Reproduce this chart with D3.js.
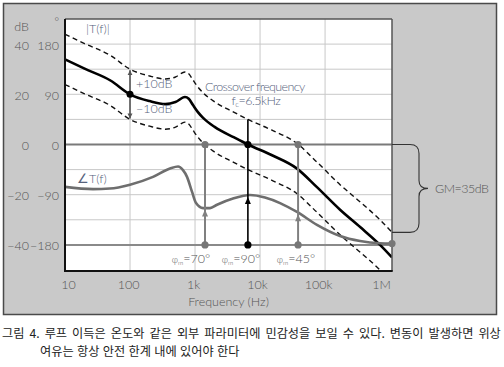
<!DOCTYPE html>
<html><head><meta charset="utf-8">
<script src="https://cdn.jsdelivr.net/npm/d3@7"></script>
<style>
body{margin:0;background:#fff}
svg{display:block}
text{font-family:Lato,"Open Sans","Liberation Sans",sans-serif;font-weight:300}
.cap{font-family:"Noto Sans CJK KR","Noto Sans",sans-serif;font-weight:400}
</style>
</head><body>
<svg id="c" width="504" height="367"></svg>
<script>
// ---- data ----
const freqs = [10, 20, 50, 100, 200, 350, 500, 700, 800, 930, 1100, 1330, 2000, 4000, 6500, 15000, 37000, 75000, 170000, 350000, 700000, 1070000];
const magDb = [33.9, 30.2, 25.5, 20, 17.3, 16.1, 16.9, 18.9, 18.2, 15.7, 13.0, 10.6, 7.0, 2.8, 0, -4.2, -9.6, -17, -26, -33, -40, -45];
const phaseFreqs = [10, 27, 49, 100, 226, 412, 548, 653, 753, 900, 1036, 1330, 1700, 2180, 3840, 7000, 11900, 20300, 37000, 75000, 170000, 345000, 700000, 1070000];
const phaseDeg = [-76, -80, -79, -72, -58, -43, -39.4, -46, -58, -85, -105, -114, -114, -108, -97, -90.5, -95, -105, -121, -144, -164, -173, -177, -177.5];
const spreadDb = 10;
const xTicks = [10, 100, 1000, 10000, 100000, 1000000];
const xTickLabels = ["10", "100", "1k", "10k", "100k", "1M"];
const dbTicks = [40, 20, 0, -20, -40];
const degTicks = [180, 90, 0, -90, -180];
const marginLabels = ["70°", "90°", "45°"];
const gainMarginDb = 35;
const markFreq = 100;
const fcLabel = "6.5kHz";
const caption1 = "그림 4. 루프 이득은 온도와 같은 외부 파라미터에 민감성을 보일 수 있다. 변동이 발생하면 위상";
const caption2 = "여유는 항상 안전 한계 내에 있어야 한다";

// ---- helpers ----
function interp(xs, ys, f) {
  const lf = Math.log10(f);
  for (let i = 0; i < xs.length - 1; i++) {
    const a = Math.log10(xs[i]), b = Math.log10(xs[i + 1]);
    if (lf >= a && lf <= b) return ys[i] + (ys[i + 1] - ys[i]) * (lf - a) / (b - a);
  }
  return ys[ys.length - 1];
}
function crossing(target) {
  for (let i = 0; i < magDb.length - 1; i++) {
    if ((magDb[i] - target) * (magDb[i + 1] - target) <= 0) {
      const a = Math.log10(freqs[i]), b = Math.log10(freqs[i + 1]);
      const t = (magDb[i] - target) / (magDb[i] - magDb[i + 1]);
      return Math.pow(10, a + t * (b - a));
    }
  }
}
const fLow = crossing(spreadDb), fc = crossing(0), fHigh = crossing(-spreadDb);
const marginFreqs = [fLow, fc, fHigh];

// ---- scales ----
const svg = d3.select("#c");
const L = 65, R = 392, T = 19, B = 271;
const x = d3.scaleLog().domain([10, 1070000]).range([L, R]);
const y = d3.scaleLinear().domain([-50.4, 50]).range([B, T]);
const yP = d3.scaleLinear().domain([-50.4 * 4.5, 50 * 4.5]).range([B, T]);

const txt = "#56627c";

// panel
svg.append("rect").attr("x", 3.5).attr("y", 3.5).attr("width", 493).attr("height", 311)
  .attr("fill", "#c9c9c9").attr("stroke", "#4a4a4a").attr("stroke-width", 1.5);
svg.append("rect").attr("x", L).attr("y", T).attr("width", R - L).attr("height", B - T).attr("fill", "#fff");

svg.append("defs").append("clipPath").attr("id", "clip")
  .append("rect").attr("x", L).attr("y", T).attr("width", R - L).attr("height", B - T);
const defs = svg.select("defs");
defs.append("marker").attr("id", "arr").attr("viewBox", "0 0 10 10").attr("refX", 10).attr("refY", 5)
  .attr("markerWidth", 5).attr("markerHeight", 6).attr("markerUnits", "userSpaceOnUse")
  .attr("orient", "auto-start-reverse")
  .append("path").attr("d", "M0,0L10,5L0,10Z").attr("fill", "#555");

// grid
const g = svg.append("g");
g.selectAll(".hg").data([-30, -20, -10, 10, 20, 30, 40]).join("line")
  .attr("x1", L).attr("x2", R).attr("y1", d => y(d)).attr("y2", d => y(d))
  .attr("stroke", "#c8c8c8").attr("stroke-width", 1);
g.selectAll(".vg").data(xTicks.filter(d => d > 10 && d < 1000000)).join("line")
  .attr("y1", T).attr("y2", B).attr("x1", d => x(d)).attr("x2", d => x(d))
  .attr("stroke", "#c8c8c8").attr("stroke-width", 1);
g.append("line").attr("x1", L).attr("x2", R).attr("y1", y(0)).attr("y2", y(0)).attr("stroke", "#7a7a7a").attr("stroke-width", 2);
g.append("line").attr("x1", L).attr("x2", R).attr("y1", yP(-180)).attr("y2", yP(-180)).attr("stroke", "#8a8a8a").attr("stroke-width", 2);

// curves
const plot = svg.append("g").attr("clip-path", "url(#clip)");
const magPts = freqs.map((f, i) => [f, magDb[i]]);
const line = d3.line().x(d => x(d[0])).y(d => y(d[1])).curve(d3.curveMonotoneX);
plot.append("path").attr("d", line(magPts.map(d => [d[0], d[1] + spreadDb])))
  .attr("fill", "none").attr("stroke", "#111").attr("stroke-width", 1.4).attr("stroke-dasharray", "5,3.5");
plot.append("path").attr("d", line(magPts.map(d => [d[0], d[1] - spreadDb])))
  .attr("fill", "none").attr("stroke", "#111").attr("stroke-width", 1.4).attr("stroke-dasharray", "5,3.5");
plot.append("path").attr("d", line(magPts))
  .attr("fill", "none").attr("stroke", "#000").attr("stroke-width", 2.6);
const pline = d3.line().x(d => x(d[0])).y(d => yP(d[1])).curve(d3.curveMonotoneX);
plot.append("path").attr("d", pline(phaseFreqs.map((f, i) => [f, phaseDeg[i]])))
  .attr("fill", "none").attr("stroke", "#6e6e6e").attr("stroke-width", 2.6);

// border
svg.append("line").attr("x1", L).attr("x2", R).attr("y1", T).attr("y2", T).attr("stroke", "#555").attr("stroke-width", 1.5);
svg.append("line").attr("x1", R).attr("x2", R).attr("y1", T).attr("y2", B).attr("stroke", "#555").attr("stroke-width", 1.5);
svg.append("line").attr("x1", L).attr("x2", L).attr("y1", T).attr("y2", B + 1).attr("stroke", "#111").attr("stroke-width", 2);
svg.append("line").attr("x1", L - 1).attr("x2", R + 0.7).attr("y1", B).attr("y2", B).attr("stroke", "#111").attr("stroke-width", 2);

// +-10 dB marker at 100 Hz
const m100 = interp(freqs, magDb, markFreq);
svg.append("line").attr("x1", x(markFreq)).attr("x2", x(markFreq))
  .attr("y1", y(m100)).attr("y2", y(m100 + spreadDb) + 1)
  .attr("stroke", "#555").attr("stroke-width", 1.6).attr("marker-end", "url(#arr)");
svg.append("line").attr("x1", x(markFreq)).attr("x2", x(markFreq))
  .attr("y1", y(m100)).attr("y2", y(m100 - spreadDb) - 1)
  .attr("stroke", "#555").attr("stroke-width", 1.6).attr("marker-end", "url(#arr)");
svg.append("circle").attr("cx", x(markFreq)).attr("cy", y(m100)).attr("r", 3.5).attr("fill", "#000");
svg.append("text").attr("x", x(markFreq) + 6).attr("y", y(m100 + spreadDb / 2) + 6)
  .attr("font-size", 12.5).attr("fill", txt).text("+10dB");
svg.append("text").attr("x", x(markFreq) + 6).attr("y", y(m100 - spreadDb / 2) + 6)
  .attr("font-size", 12.5).attr("fill", txt).text("−10dB");

// phase margin markers
const colors = ["#808080", "#000", "#808080"];
const labelDx = [-14, -7, -2];
marginFreqs.forEach((f, i) => {
  const xx = x(f);
  const ph = interp(phaseFreqs, phaseDeg, f);
  const top = i === 1 ? y(interp(freqs, magDb, f) + spreadDb) : y(0);
  svg.append("line").attr("x1", xx).attr("x2", xx).attr("y1", top).attr("y2", yP(-180))
    .attr("stroke", colors[i]).attr("stroke-width", i === 1 ? 1.6 : 2);
  const tip = yP(ph) + 1.5;
  svg.append("path").attr("d", `M${xx},${tip}L${xx - 3},${tip + 7}L${xx + 3},${tip + 7}Z`).attr("fill", colors[i]);
  svg.append("circle").attr("cx", xx).attr("cy", y(0)).attr("r", 3.6).attr("fill", i === 1 ? "#000" : "#777");
  svg.append("circle").attr("cx", xx).attr("cy", yP(-180)).attr("r", 3.6).attr("fill", i === 1 ? "#000" : "#777");
  const t = svg.append("text").attr("x", xx + labelDx[i]).attr("y", 263).attr("text-anchor", "middle")
    .attr("fill", "#555").attr("font-size", 12.5);
  t.append("tspan").attr("font-size", 9).text("φ");
  t.append("tspan").attr("font-size", 6.5).attr("dy", 2).text("m");
  t.append("tspan").attr("dy", -2).text("=" + marginLabels[i]);
});

// phase end dot
const lastF = phaseFreqs[phaseFreqs.length - 1];
svg.append("circle").attr("cx", x(lastF)).attr("cy", yP(phaseDeg[phaseDeg.length - 1])).attr("r", 3.6).attr("fill", "#777");

// gain margin bracket
const y0 = y(0), y1 = y(-gainMarginDb), ym = (y0 + y1) / 2;
const bx = R + 27;
svg.append("path").attr("d",
  `M${R},${y0}H${bx - 9}Q${bx},${y0} ${bx},${y0 + 9}V${ym - 8}Q${bx},${ym} ${bx + 9},${ym}` +
  `Q${bx},${ym} ${bx},${ym + 8}V${y1 - 9}Q${bx},${y1} ${bx - 9},${y1}H${R}`)
  .attr("fill", "none").attr("stroke", "#333").attr("stroke-width", 1.1);
svg.append("text").attr("x", bx + 16).attr("y", ym + 4.5).attr("font-size", 12.5).attr("fill", "#555")
  .attr("letter-spacing", -0.5).text("GM=" + gainMarginDb + "dB");

// annotations
svg.append("text").attr("x", 86).attr("y", 33).attr("font-size", 12.5).attr("fill", txt).text("|T(f)|");
svg.append("text").attr("x", 77).attr("y", 183).attr("font-size", 12.5).attr("fill", txt).text("∠T(f)");
svg.append("text").attr("x", x(fc) + 7).attr("y", 91).attr("text-anchor", "middle").attr("font-size", 12.5)
  .attr("fill", txt).attr("letter-spacing", -0.6).text("Crossover frequency");
const fct = svg.append("text").attr("x", x(fc) + 8).attr("y", 105).attr("text-anchor", "middle").attr("font-size", 12.5)
  .attr("fill", txt).attr("letter-spacing", -0.5);
fct.append("tspan").text("f");
fct.append("tspan").attr("font-size", 8).attr("dy", 2).text("c");
fct.append("tspan").attr("dy", -2).text("=" + fcLabel);

// axes
const xa = svg.append("g").attr("transform", `translate(0,${B})`)
  .call(d3.axisBottom(x).tickValues(xTicks).tickFormat((d, i) => xTickLabels[i]).tickSize(0).tickPadding(9));
xa.select(".domain").remove();
const xDx = [3, -2, -2, -3, -7, -9];
xa.selectAll("text").attr("font-size", 12.5).attr("fill", "#555").attr("font-family", null)
  .attr("dx", (d, i) => xDx[i]);
const ya = svg.append("g").attr("transform", "translate(29,0)")
  .call(d3.axisLeft(y).tickValues(dbTicks).tickSize(0).tickPadding(0));
ya.select(".domain").remove();
ya.selectAll("text").attr("font-size", 12.5).attr("fill", "#555").attr("font-family", null).attr("dy", "0.4em");
const pa = svg.append("g").attr("transform", "translate(59,0)")
  .call(d3.axisLeft(yP).tickValues(degTicks).tickSize(0).tickPadding(0));
pa.select(".domain").remove();
pa.selectAll("text").attr("font-size", 12.5).attr("fill", "#555").attr("font-family", null).attr("dy", "0.4em");
svg.append("text").attr("x", 29).attr("y", 31).attr("text-anchor", "end").attr("font-size", 12.5).attr("fill", "#555").text("dB");
svg.append("text").attr("x", 59).attr("y", 26).attr("text-anchor", "end").attr("font-size", 11).attr("fill", "#555").text("°");
svg.append("text").attr("x", (L + R) / 2).attr("y", 306).attr("text-anchor", "middle").attr("font-size", 12.5)
  .attr("fill", "#555").text("Frequency (Hz)");

// caption (two lines; first line justified to full width)
svg.append("text").attr("class", "cap").attr("font-size", 12.2).attr("fill", "#222")
  .attr("x", 2).attr("y", 337.5).attr("word-spacing", 2.3).text(caption1);
svg.append("text").attr("class", "cap").attr("font-size", 12.2).attr("fill", "#222")
  .attr("x", 40).attr("y", 356).attr("word-spacing", 0.6).text(caption2);
</script>
</body></html>
